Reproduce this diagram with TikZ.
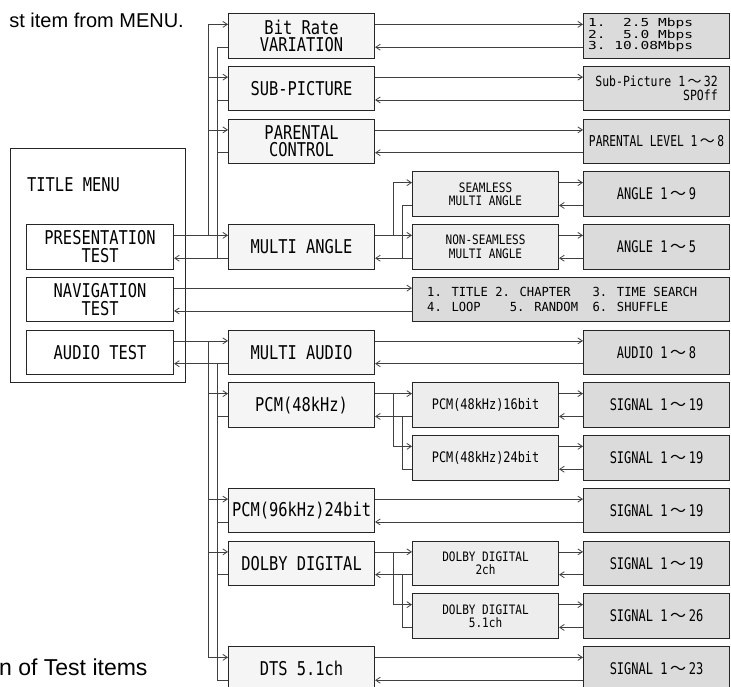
\documentclass[tikz,border=0pt]{standalone}
\usepackage{fontspec}
\setmainfont{Liberation Sans}
\newfontfamily\gA[FakeStretch=0.81]{DejaVu Sans Mono}
\newfontfamily\gB[FakeStretch=0.85]{DejaVu Sans Mono}
\newfontfamily\gC[FakeStretch=0.75]{DejaVu Sans Mono}
\newfontfamily\gF[FakeStretch=0.82]{DejaVu Sans Mono}
\newfontfamily\gD[FakeStretch=0.97]{DejaVu Sans Mono}
\newfontfamily\gE[FakeStretch=1.32]{DejaVu Sans Mono}
\newfontfamily\cjk{Noto Sans CJK JP}
\newcommand{\tildeJ}{\,{\cjk ～}\,}
\usetikzlibrary{arrows.meta,calc}
\newcommand{\anch}[1]{%
 \coordinate (#1-l1) at ($(#1.north west)!.25!(#1.south west)$);
 \coordinate (#1-l2) at ($(#1.north west)!.75!(#1.south west)$);
 \coordinate (#1-r1) at ($(#1.north east)!.25!(#1.south east)$);
 \coordinate (#1-r2) at ($(#1.north east)!.75!(#1.south east)$);}
\newcommand{\pairAB}[2]{\draw[arr] (#1-r1) -- (#2-l1); \draw[arr] (#2-l2) -- (#1-r2);}
\begin{document}
\begin{tikzpicture}[x=1pt,y=-1pt,
  bx/.style={draw=black!85, line width=1.1pt, rectangle, inner sep=0pt, anchor=north west, minimum height=44.5pt, align=center},
  c1/.style={bx, fill=white, minimum width=147pt, font=\gA\fontsize{19}{17.5}\selectfont},
  c2/.style={bx, fill=black!4, minimum width=146pt, font=\gA\fontsize{19}{17.5}\selectfont},
  c3/.style={bx, fill=black!7, minimum width=146pt, font=\gB\fontsize{13}{13.5}\selectfont},
  c4/.style={bx, fill=black!14, minimum width=146pt, font=\gC\fontsize{16}{15}\selectfont},
  ln/.style={draw=black!75, line width=0.8pt},
  arr/.style={ln, -{Straight Barb[length=4.5pt,width=6pt]}},
  captxt/.style={inner sep=0pt, font=\fontsize{20}{24}\selectfont}
]
\useasboundingbox (0,0) rectangle (731,686);
\fill[white] (0,0) rectangle (731,686);

% captions (cut off at the page edge)
\node[captxt, anchor=base east] (capA) at (184,27) {st item from MENU.};
\node[captxt, anchor=base west, font=\fontsize{23}{26}\selectfont] (capB) at (-1,675) {n of Test items};

% title menu
\node[draw=black!85, line width=1.2pt, fill=white, anchor=north west, minimum width=175pt, minimum height=234pt, inner sep=0pt] (tm) at (10,148) {};
\node[anchor=west, inner sep=0pt, font=\gA\fontsize{19}{17.5}\selectfont] (tmt) at (27,185) {TITLE MENU};
\node[c1] (pres) at (26,224) {PRESENTATION\\TEST};
\node[c1] (navt) at (26,276.75) {NAVIGATION\\TEST};
\node[c1] (aud) at (26,329.5) {AUDIO TEST};

% column 2
\node[c2] (br) at (228,13) {Bit Rate\\VARIATION};
\node[c2] (sp) at (228,65.75) {SUB-PICTURE};
\node[c2] (pc) at (228,118.5) {PARENTAL\\CONTROL};
\node[c2] (ma) at (228,224) {MULTI ANGLE};
\node[c2] (mau) at (228,329.5) {MULTI AUDIO};
\node[c2] (p48) at (228,382.25) {PCM(48kHz)};
\node[c2] (p96) at (228,487.75) {PCM(96kHz)24bit};
\node[c2] (dd) at (228,540.5) {DOLBY DIGITAL};
\node[c2] (dts) at (228,646) {DTS 5.1ch};

% column 3
\node[c3] (sm) at (412,171.25) {SEAMLESS\\MULTI ANGLE};
\node[c3] (ns) at (412,224) {NON-SEAMLESS\\MULTI ANGLE};
\node[c3, font=\gF\fontsize{14.5}{14}\selectfont] (p16) at (412,382.25) {PCM(48kHz)16bit};
\node[c3, font=\gF\fontsize{14.5}{14}\selectfont] (p24) at (412,435) {PCM(48kHz)24bit};
\node[c3] (d2) at (412,540.5) {DOLBY DIGITAL\\2ch};
\node[c3] (d5) at (412,593.25) {DOLBY DIGITAL\\5.1ch};

% column 4
\node[c4] (r1) at (583,13) {};
\node[anchor=west, inner sep=0pt, align=left, font=\gE\fontsize{11}{9.6}\selectfont] (r1t) at (588,35.25) {1.~~2.5 Mbps\\2.~~5.0 Mbps\\3.~10.08Mbps};
\node[c4, font=\gF\fontsize{14}{14}\selectfont, align=right] (r2) at (583,65.75) {Sub-Picture 1\tildeJ 32\\SPOff\hspace{7pt}};
\node[c4, font=\gC\fontsize{15}{15}\selectfont] (r3) at (583,118.5) {PARENTAL LEVEL 1\tildeJ 8};
\node[c4] (r4) at (583,171.25) {ANGLE 1\tildeJ 9};
\node[c4] (r5) at (583,224) {ANGLE 1\tildeJ 5};
\node[c4, minimum width=317pt] (nb) at (412,276.75) {};
\node[anchor=west, inner sep=0pt, align=left, font=\gD\fontsize{12.5}{15}\selectfont] (nbt) at (427,299) {1. TITLE 2. CHAPTER~~~3. TIME SEARCH\\4. LOOP~~~~5. RANDOM~~6. SHUFFLE};
\node[c4] (r7) at (583,329.5) {AUDIO 1\tildeJ 8};
\node[c4] (r8) at (583,382.25) {SIGNAL 1\tildeJ 19};
\node[c4] (r9) at (583,435) {SIGNAL 1\tildeJ 19};
\node[c4] (r10) at (583,487.75) {SIGNAL 1\tildeJ 19};
\node[c4] (r11) at (583,540.5) {SIGNAL 1\tildeJ 19};
\node[c4] (r12) at (583,593.25) {SIGNAL 1\tildeJ 26};
\node[c4] (r13) at (583,646) {SIGNAL 1\tildeJ 23};

\anch{pres}\anch{navt}\anch{aud}
\anch{br}\anch{sp}\anch{pc}\anch{ma}\anch{mau}\anch{p48}\anch{p96}\anch{dd}\anch{dts}
\anch{sm}\anch{ns}\anch{p16}\anch{p24}\anch{d2}\anch{d5}
\anch{r1}\anch{r2}\anch{r3}\anch{r4}\anch{r5}\anch{nb}\anch{r7}\anch{r8}\anch{r9}\anch{r10}\anch{r11}\anch{r12}\anch{r13}

\coordinate (tA) at (208,0);
\coordinate (tB) at (217,0);
\coordinate (sA) at (393,0);
\coordinate (sB) at (402,0);

% presentation group
\draw[arr] (pres-r1) -- (ma-l1);
\draw[arr] (tA |- pres-r1) |- (br-l1);
\draw[arr] (tA |- sp-l1) -- (sp-l1);
\draw[arr] (tA |- pc-l1) -- (pc-l1);
\draw[arr] (br-l2) -| (tB |- pres-r2) -- (pres-r2);
\draw[ln] (ma-l2) -- (tB |- ma-l2);
\draw[ln] (sp-l2) -- (tB |- sp-l2);
\draw[ln] (pc-l2) -- (tB |- pc-l2);

% navigation
\pairAB{navt}{nb}

% audio group
\draw[arr] (aud-r1) -- (mau-l1);
\draw[arr] (tA |- aud-r1) |- (dts-l1);
\draw[arr] (tA |- p48-l1) -- (p48-l1);
\draw[arr] (tA |- p96-l1) -- (p96-l1);
\draw[arr] (tA |- dd-l1) -- (dd-l1);
\draw[arr] (dts-l2) -| (tB |- aud-r2) -- (aud-r2);
\draw[ln] (mau-l2) -- (tB |- mau-l2);
\draw[ln] (p48-l2) -- (tB |- p48-l2);
\draw[ln] (p96-l2) -- (tB |- p96-l2);
\draw[ln] (dd-l2) -- (tB |- dd-l2);

% sub groups
\draw[arr] (ma-r1) -- (ns-l1);
\draw[arr] (sA |- ma-r1) |- (sm-l1);
\draw[arr] (sm-l2) -| (sB |- ma-r2) -- (ma-r2);
\draw[ln] (ns-l2) -- (sB |- ns-l2);

\draw[arr] (p48-r1) -- (p16-l1);
\draw[arr] (sA |- p48-r1) |- (p24-l1);
\draw[arr] (p24-l2) -| (sB |- p48-r2) -- (p48-r2);
\draw[ln] (p16-l2) -- (sB |- p16-l2);

\draw[arr] (dd-r1) -- (d2-l1);
\draw[arr] (sA |- dd-r1) |- (d5-l1);
\draw[arr] (d5-l2) -| (sB |- dd-r2) -- (dd-r2);
\draw[ln] (d2-l2) -- (sB |- d2-l2);

% to results
\pairAB{br}{r1}
\pairAB{sp}{r2}
\pairAB{pc}{r3}
\pairAB{sm}{r4}
\pairAB{ns}{r5}
\pairAB{mau}{r7}
\pairAB{p16}{r8}
\pairAB{p24}{r9}
\pairAB{p96}{r10}
\pairAB{d2}{r11}
\pairAB{d5}{r12}
\pairAB{dts}{r13}
\end{tikzpicture}
\end{document}
